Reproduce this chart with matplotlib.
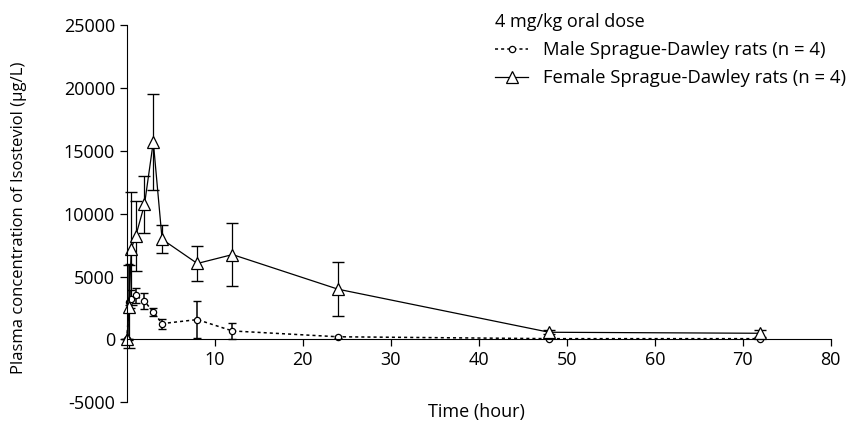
import matplotlib
matplotlib.use("Agg")
import matplotlib.pyplot as plt
import numpy as np

plt.rcParams['font.family'] = ['Open Sans', 'DejaVu Sans']
plt.rcParams['axes.unicode_minus'] = False

# donnees
time_male = [0, 0.25, 0.5, 1, 2, 3, 4, 8, 12, 24, 48, 72]
conc_male = [0, 2975, 3200, 3500, 3030, 2180, 1250, 1570, 665, 200, 50, 50]
sd_male = [0, 3000, 700, 600, 650, 350, 400, 1460, 650, 100, 40, 40]

time_female = [0, 0.25, 0.5, 1, 2, 3, 4, 8, 12, 24, 48, 72]
conc_female = [0, 2580, 7230, 8210, 10740, 15730, 7970, 6040, 6750, 3990, 560, 480]
sd_female = [0, 3300, 4500, 2800, 2300, 3850, 1100, 1400, 2500, 2150, 150, 300]

fig = plt.figure(figsize=(8.46, 4.25), dpi=100)
ax = fig.add_axes([0.150, 0.054, 0.832, 0.886])

# barres d'erreur seules
ax.errorbar(time_male, conc_male, yerr=sd_male, fmt='none', ecolor='black',
            elinewidth=1.1, capsize=3, clip_on=False)
ax.errorbar(time_female, conc_female, yerr=sd_female, fmt='none', ecolor='black',
            elinewidth=0.9, capsize=4, clip_on=False)

# courbes
ax.plot(time_male, conc_male, ls=(0, (2, 2)), color='black', marker='o', mfc='white',
        mec='black', ms=4.5, mew=0.9, lw=1.1, clip_on=False, label='Male Sprague-Dawley rats (n = 4)')
ax.plot(time_female, conc_female, ls='-', color='black', marker='^', mfc='white',
        mec='black', ms=8, mew=0.9, lw=0.9, clip_on=False, label='Female Sprague-Dawley rats (n = 4)')

ax.set_xlim(0, 80)
ax.set_ylim(-5000, 25000)
ax.set_xticks([10, 20, 30, 40, 50, 60, 70, 80])
ax.set_yticks(np.arange(-5000, 25001, 5000))
ax.spines['top'].set_visible(False)
ax.spines['right'].set_visible(False)
ax.spines['bottom'].set_position(('data', 0))
ax.tick_params(axis='both', labelsize=13, length=5, width=0.9)
ax.set_xlabel('Time (hour)', fontsize=13)
ax.xaxis.set_label_coords(0.497, -0.002)
ax.set_ylabel('Plasma concentration of Isosteviol (μg/L)', fontsize=12)
ax.yaxis.set_label_coords(-0.142, 0.49)

leg = ax.legend(loc='upper left', bbox_to_anchor=(0.570, 1.0), bbox_transform=fig.transFigure,
                title='4 mg/kg oral dose', frameon=False, fontsize=13.3, title_fontsize=13,
                handlelength=1.8, handletextpad=0.8, alignment='left', labelspacing=0.55,
                borderpad=0.2)

plt.savefig('out.png', dpi=100)
